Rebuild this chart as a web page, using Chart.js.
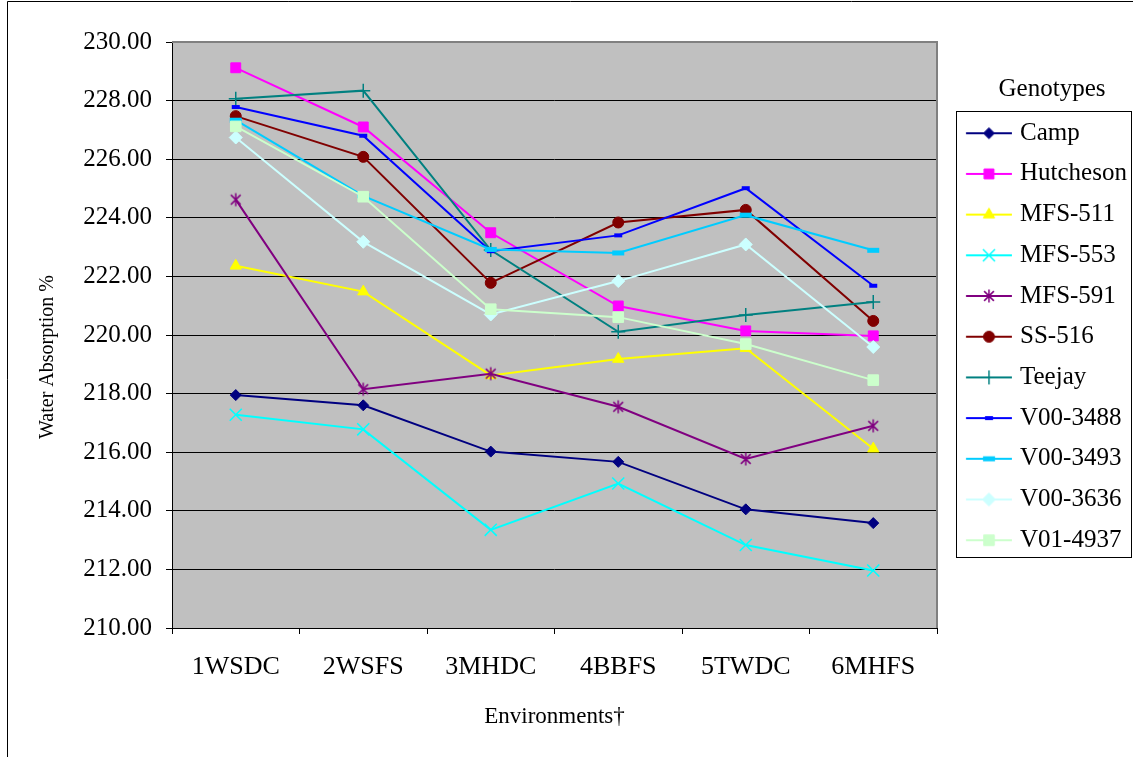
<!DOCTYPE html>
<html>
<head>
<meta charset="utf-8">
<title>Water Absorption by Environment</title>
<style>
  html, body { margin: 0; padding: 0; background: #fff; }
  #wrap { width: 1133px; height: 757px; position: relative; }
  canvas { display: block; }
</style>
<script src="https://cdn.jsdelivr.net/npm/chart.js@4.4.1/dist/chart.umd.min.js"></script>
</head>
<body>
<div id="wrap"><canvas id="chart" width="1133" height="757"></canvas></div>
<script>
// Environments on the x axis
const environments = ['1WSDC', '2WSFS', '3MHDC', '4BBFS', '5TWDC', '6MHFS'];

// Water absorption (%) per genotype and environment
const camp      = [217.95, 217.60, 216.02, 215.67, 214.05, 213.58];
const hutcheson = [229.12, 227.10, 223.49, 220.99, 220.14, 219.97];
const mfs511    = [222.36, 221.48, 218.62, 219.18, 219.55, 216.12];
const mfs553    = [217.28, 216.78, 213.35, 214.93, 212.83, 211.96];
const mfs591    = [224.62, 218.15, 218.68, 217.55, 215.77, 216.90];
const ss516     = [227.47, 226.08, 221.78, 223.84, 224.27, 220.48];
const teejay    = [228.06, 228.34, 222.90, 220.11, 220.68, 221.13];
const v003488   = [227.78, 226.80, 222.86, 223.40, 225.01, 221.68];
const v003493   = [227.33, 224.75, 222.92, 222.80, 224.09, 222.89];
const v003636   = [226.74, 223.18, 220.70, 221.84, 223.09, 219.59];
const v014937   = [227.12, 224.72, 220.88, 220.61, 219.69, 218.46];

// y axis range and tick step
const yMin = 210, yMax = 230, yStep = 2;

const SERIF = "'Liberation Serif', 'Times New Roman', serif";

// Series appearance: colour and marker
const series = [
  { label: 'Camp',       data: camp,      color: '#000080', style: 'rectRot',  r: 5.5, bw: 1 },
  { label: 'Hutcheson',  data: hutcheson, color: '#FF00FF', style: 'rect',     r: 7,   bw: 1 },
  { label: 'MFS-511',    data: mfs511,    color: '#FFFF00', style: 'triangle', r: 6.5, bw: 1 },
  { label: 'MFS-553',    data: mfs553,    color: '#00FFFF', style: 'crossRot', r: 8.5, bw: 1.5 },
  { label: 'MFS-591',    data: mfs591,    color: '#800080', style: 'asterisk', r: 6.5, bw: 1.5 },
  { label: 'SS-516',     data: ss516,     color: '#800000', style: 'circle',   r: 5.5, bw: 1 },
  { label: 'Teejay',     data: teejay,    color: '#008080', style: 'cross',    r: 7,   bw: 1.5 },
  { label: 'V00-3488',   data: v003488,   color: '#0000FF', style: 'line',     r: 4,   bw: 4 },
  { label: 'V00-3493',   data: v003493,   color: '#00CCFF', style: 'line',     r: 6,   bw: 5 },
  { label: 'V00-3636',   data: v003636,   color: '#CCFFFF', style: 'rectRot',  r: 6.5, bw: 1 },
  { label: 'V01-4937',   data: v014937,   color: '#CCFFCC', style: 'rect',     r: 7.5, bw: 1 }
];

// Draws one marker shape on a 2D context
function drawMarker(ctx, s, x, y) {
  const r = s.r;
  ctx.fillStyle = s.color;
  ctx.strokeStyle = s.color;
  ctx.lineWidth = s.bw;
  ctx.beginPath();
  switch (s.style) {
    case 'rectRot':
      ctx.moveTo(x, y - r); ctx.lineTo(x + r, y); ctx.lineTo(x, y + r); ctx.lineTo(x - r, y);
      ctx.closePath(); ctx.fill(); ctx.stroke(); break;
    case 'rect': {
      const h = r * Math.SQRT1_2;
      ctx.rect(x - h, y - h, 2 * h, 2 * h); ctx.fill(); ctx.stroke(); break;
    }
    case 'triangle':
      ctx.moveTo(x, y - r); ctx.lineTo(x + 0.866 * r, y + r / 2); ctx.lineTo(x - 0.866 * r, y + r / 2);
      ctx.closePath(); ctx.fill(); ctx.stroke(); break;
    case 'crossRot': {
      const d = r * Math.SQRT1_2;
      ctx.moveTo(x - d, y - d); ctx.lineTo(x + d, y + d);
      ctx.moveTo(x + d, y - d); ctx.lineTo(x - d, y + d); ctx.stroke(); break;
    }
    case 'cross':
      ctx.moveTo(x, y - r); ctx.lineTo(x, y + r);
      ctx.moveTo(x - r, y); ctx.lineTo(x + r, y); ctx.stroke(); break;
    case 'asterisk': {
      const d = r * 0.75;
      ctx.moveTo(x, y - r); ctx.lineTo(x, y + r);
      ctx.moveTo(x - d, y - d); ctx.lineTo(x + d, y + d);
      ctx.moveTo(x + d, y - d); ctx.lineTo(x - d, y + d); ctx.stroke(); break;
    }
    case 'circle':
      ctx.arc(x, y, r, 0, Math.PI * 2); ctx.fill(); ctx.stroke(); break;
    case 'line':
      ctx.moveTo(x - r, y); ctx.lineTo(x + r, y); ctx.stroke(); break;
  }
}

// Marker image used as a point style (for shapes Chart.js does not provide)
function markerCanvas(s) {
  const c = document.createElement('canvas');
  c.width = 16; c.height = 16;
  drawMarker(c.getContext('2d'), s, 8, 8);
  return c;
}

// Legend swatch: short line with the marker in its middle
function legendSwatch(s) {
  const c = document.createElement('canvas');
  c.width = 64; c.height = 20;
  const ctx = c.getContext('2d');
  ctx.strokeStyle = s.color;
  ctx.lineWidth = 2;
  ctx.beginPath(); ctx.moveTo(17.9, 10); ctx.lineTo(63.9, 10); ctx.stroke();
  drawMarker(ctx, s, 40.9, 10);
  return c;
}

const swatches = series.map(legendSwatch);

const datasets = series.map((s, i) => ({
  label: s.label,
  data: s.data,
  borderColor: s.color,
  backgroundColor: s.color,
  borderWidth: 2,
  tension: 0,
  fill: false,
  pointStyle: s.style === 'asterisk' ? markerCanvas(s) : s.style,
  pointRadius: s.r,
  pointBorderWidth: s.bw,
  pointBackgroundColor: s.color,
  pointBorderColor: s.color,
  order: -i,
  clip: false
}));

// Plot background, axis line, plot frame, legend frame and outer frame
const framePlugin = {
  id: 'frames',
  afterLayout(chart) {
    const lg = chart.legend;
    lg.width = 230;
    lg.right = lg.left + 230;
    // lower the vertical axis title a little below the plot's middle
    chart.scales.y.top += 44;
  },
  beforeDraw(chart) {
    const { ctx, chartArea: a } = chart;
    ctx.save();
    ctx.fillStyle = '#ffffff';
    ctx.fillRect(0, 0, chart.width, chart.height);
    ctx.fillStyle = '#C0C0C0';
    ctx.fillRect(a.left, a.top, a.right - a.left, a.bottom - a.top);
    ctx.restore();
  },
  afterDraw(chart) {
    const { ctx, chartArea: a } = chart;
    ctx.save();
    // value axis line
    ctx.strokeStyle = '#000000';
    ctx.lineWidth = 1;
    const ax = Math.round(a.left) + 0.5;
    ctx.beginPath();
    ctx.moveTo(ax, a.top);
    ctx.lineTo(ax, a.bottom + 1);
    ctx.stroke();

    ctx.strokeStyle = '#808080';
    ctx.lineWidth = 2;
    ctx.beginPath();
    ctx.moveTo(a.left, a.top);
    ctx.lineTo(a.right, a.top);
    ctx.lineTo(a.right, a.bottom);
    ctx.stroke();

    const lg = chart.legend;
    const hb = lg.legendHitBoxes;
    if (hb && hb.length) {
      const x0 = Math.round(lg.left + 19) + 0.5;
      const y0 = Math.round(hb[0].top - 10) + 0.5;
      const last = hb[hb.length - 1];
      const y1 = Math.round(last.top + last.height + 4) + 0.5;
      const x1 = chart.width - 1.5;
      ctx.strokeStyle = '#000000';
      ctx.lineWidth = 1;
      ctx.strokeRect(x0, y0, x1 - x0, y1 - y0);
    }

    ctx.strokeStyle = '#000000';
    ctx.lineWidth = 1;
    ctx.beginPath();
    ctx.moveTo(7.5, chart.height);
    ctx.lineTo(7.5, 1.5);
    ctx.lineTo(chart.width, 1.5);
    ctx.stroke();
    ctx.restore();
  }
};

Chart.defaults.font.family = SERIF;
Chart.defaults.color = '#000000';

new Chart(document.getElementById('chart'), {
  type: 'line',
  data: { labels: environments, datasets },
  plugins: [framePlugin],
  options: {
    responsive: false,
    animation: false,
    devicePixelRatio: 1,
    events: [],
    layout: { padding: { top: 42, left: 0, right: 0, bottom: 0 } },
    scales: {
      x: {
        type: 'category',
        offset: true,
        grid: { offset: true, drawOnChartArea: false, drawTicks: true, tickLength: 6, color: '#000000' },
        border: { display: true, color: '#000000', width: 1 },
        ticks: { font: { family: SERIF, size: 26 }, color: '#000000', padding: 18, maxRotation: 0, autoSkip: false },
        title: { display: true, text: 'Environments†', font: { family: SERIF, size: 23 }, color: '#000000', padding: { top: 0, bottom: 26 } },
        afterFit(scale) { scale.height = 129; }
      },
      y: {
        min: yMin,
        max: yMax,
        grid: { color: '#000000', lineWidth: 1, drawTicks: true, tickLength: 6 },
        border: { display: false },
        ticks: { stepSize: yStep, font: { family: SERIF, size: 25 }, color: '#000000', padding: 14, callback: v => Number(v).toFixed(2) },
        title: { display: true, text: 'Water Absorption %', font: { family: SERIF, size: 20 }, color: '#000000', padding: { top: 36, bottom: 0 } },
        afterFit(scale) { scale.width = 172; }
      }
    },
    plugins: {
      tooltip: { enabled: false },
      legend: {
        display: true,
        position: 'right',
        align: 'start',
        maxWidth: 196,
        title: { display: true, text: 'Genotypes', color: '#000000', font: { family: SERIF, size: 25, lineHeight: 1.14 }, padding: { top: 34.5, bottom: 0 } },
        labels: {
          usePointStyle: true,
          pointStyleWidth: 54.8,
          padding: 15.7,
          color: '#000000',
          font: { family: SERIF, size: 25 },
          generateLabels: (chart) => chart.data.datasets.map((ds, i) => ({
            text: ds.label,
            fillStyle: ds.borderColor,
            strokeStyle: ds.borderColor,
            lineWidth: 0,
            pointStyle: swatches[i],
            hidden: !chart.isDatasetVisible(i),
            datasetIndex: i,
            fontColor: '#000000'
          }))
        }
      }
    }
  }
});
</script>
</body>
</html>
